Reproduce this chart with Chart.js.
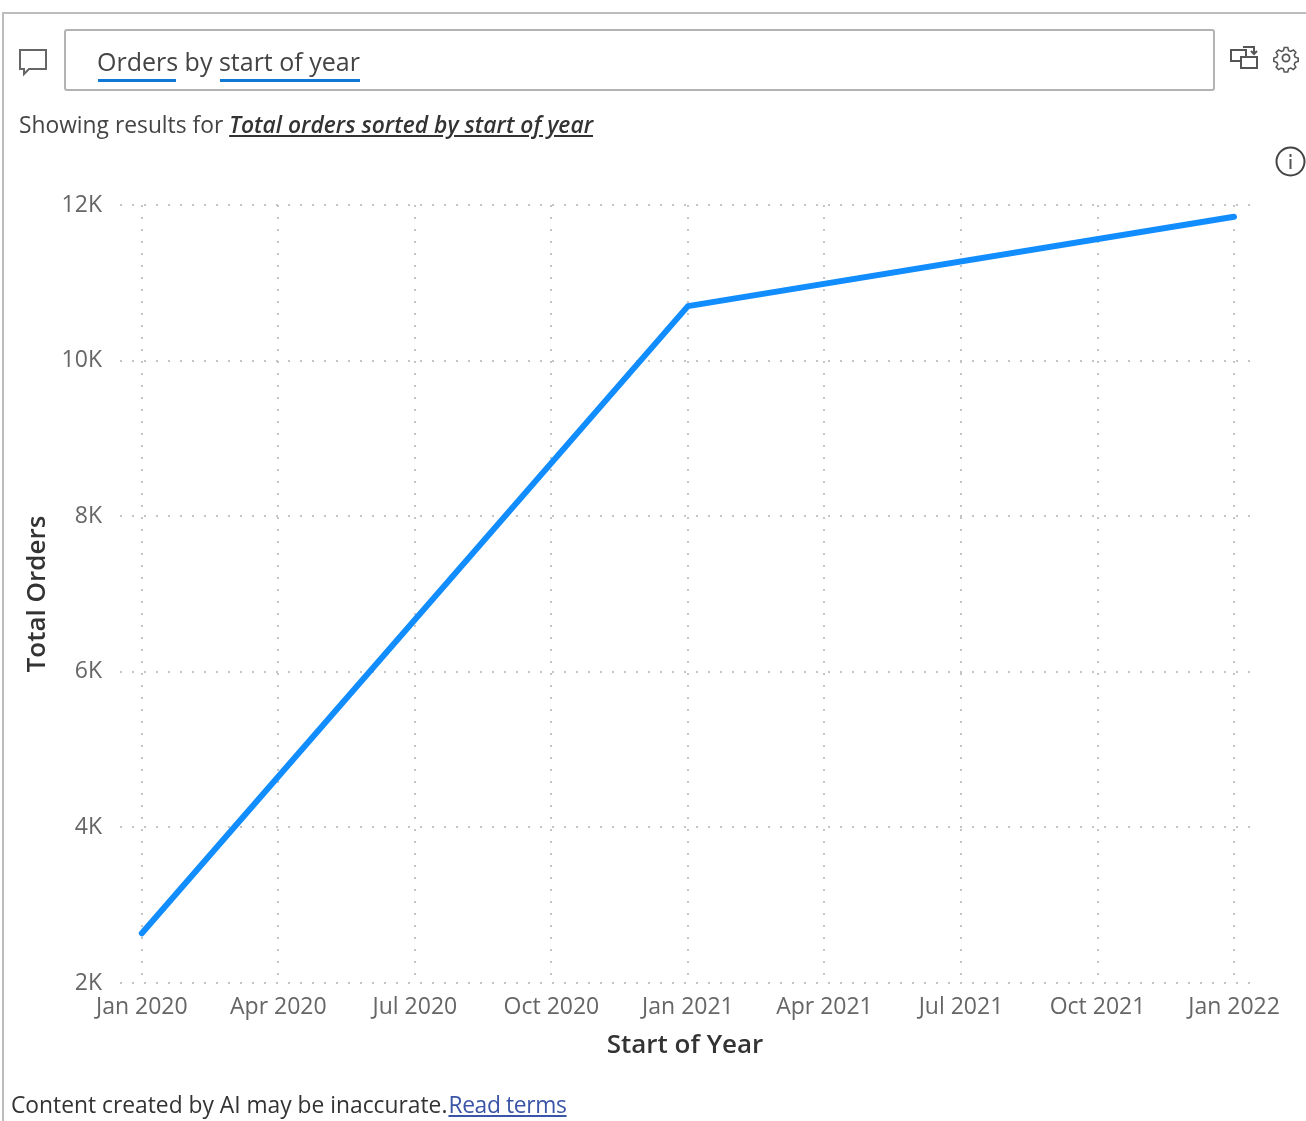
<!DOCTYPE html>
<html><head><meta charset="utf-8">
<script src="https://cdn.jsdelivr.net/npm/chart.js@4"></script>
<style>
html,body{margin:0;padding:0;background:#fff;width:1306px;height:1121px;overflow:hidden}
#wrap{position:relative;width:1306px;height:1121px;font-family:"Open Sans",sans-serif;filter:blur(0.45px)}
#frame{position:absolute;left:2px;top:12px;width:1310px;height:1120px;border:2px solid #bdbdbd;box-sizing:border-box}
#box{position:absolute;left:64px;top:29px;width:1151px;height:62px;border:2px solid #b3b3b3;border-radius:3px;box-sizing:border-box}
.t{position:absolute;white-space:nowrap;line-height:1}
canvas{position:absolute;left:0;top:0}
svg{position:absolute;overflow:visible}
</style></head><body>
<div id="wrap">
<canvas id="c" width="1306" height="1121" style="width:1306px;height:1121px"></canvas>
<div id="frame"></div>
<div id="box"></div>
<svg style="left:18px;top:47px" width="30" height="28" fill="none" stroke="#666" stroke-width="2"><path d="M2 3h26v19H11l-5 5v-5H2z"/></svg>
<div class="t" id="q" style="left:97px;top:49px;font-size:25px;color:#444">Orders by start of year</div>
<div style="position:absolute;left:98px;top:79px;width:78px;height:3px;background:#0f78d4"></div>
<div style="position:absolute;left:220px;top:79px;width:140px;height:3px;background:#0f78d4"></div>
<div class="t" id="s" style="left:19px;top:114px;font-size:22.8px;color:#444">Showing results for <span style="font-style:italic;font-weight:600;text-decoration:underline;color:#333;letter-spacing:0.02px">Total orders sorted by start of year</span></div>
<svg style="left:1230px;top:44px" width="30" height="28" fill="none" stroke="#555" stroke-width="2"><rect x="1" y="6" width="15" height="11"/><rect x="11" y="13" width="16" height="11" fill="#fff"/><path d="M13 3h11v7M21 7l3 3 3-3"/></svg>
<svg style="left:1274px;top:46px" width="25" height="25" fill="none" stroke="#555" stroke-width="1.8"><circle cx="12" cy="12" r="3.600"/><path d="M11 1h4l1 3.500 2.500 1 3-1.800 2.800 2.800-1.800 3 1 2.500 3.500 1v4l-3.500 1-1 2.500 1.800 3-2.800 2.800-3-1.800-2.500 1-1 3.500h-4l-1-3.500-2.500-1-3 1.800-2.800-2.800 1.800-3-1-2.500-3.500-1v-4l3.500-1 1-2.500-1.800-3 2.800-2.800 3 1.800 2.500-1z" transform="scale(0.87) translate(0.8 0.8)"/></svg>
<svg style="left:1275px;top:146px" width="31" height="31" fill="none"><circle cx="15.5" cy="15.500" r="14" stroke="#444" stroke-width="2"/><path d="M15.5 13v10M15.5 8v3" stroke="#555" stroke-width="2"/></svg>
<div class="t" id="f" style="left:11px;top:1094px;font-size:22.8px;color:#333">Content created by AI may be inaccurate.<span style="color:#3a55a8;text-decoration:underline;margin-left:1px;letter-spacing:-0.35px">Read terms</span></div>
</div>
<script>
const categories=["Jan 2020","Apr 2020","Jul 2020","Oct 2020","Jan 2021","Apr 2021","Jul 2021","Oct 2021","Jan 2022"];
const pointIndex=[0,4,8];
const totalOrders=[2640,10700,11850];
const yTicks=[2000,4000,6000,8000,10000,12000];
const yLabels=["2K","4K","6K","8K","10K","12K"];
const font='"Open Sans",sans-serif';
const grid={color:"#c4c4c4",lineWidth:2,drawTicks:false};
const border={display:false};
new Chart(document.getElementById("c"),{
 type:"line",
 data:{datasets:[{data:pointIndex.map((x,i)=>({x,y:totalOrders[i]})),borderColor:"#118DFF",borderWidth:6,borderCapStyle:"round",borderJoinStyle:"round",pointRadius:0,tension:0}]},
 options:{responsive:false,animation:false,devicePixelRatio:1,
  layout:{padding:{left:22,right:56,top:205,bottom:60}},
  plugins:{legend:{display:false},tooltip:{enabled:false}},
  scales:{
   x:{type:"linear",min:-0.16,max:8.117,
    afterBuildTicks(s){s.ticks=categories.map((_,i)=>({value:i}));},
    afterFit(s){s.height=78;},
    grid:{...grid,tickLength:0},border:{...border,dash:[2,10]},
    ticks:{autoSkip:false,maxRotation:0,minRotation:0,padding:11,color:"#666",font:{family:font,size:23},callback:v=>categories[v]},
    title:{display:true,text:"Start of Year",color:"#333",font:{family:font,size:26,weight:"600"},padding:{top:4,bottom:0}}},
   y:{min:2000,max:12000,
    afterBuildTicks(s){s.ticks=yTicks.map(v=>({value:v}));},
    afterFit(s){s.width=98;},
    grid:{...grid,tickLength:0},border:{...border,dash:[2,10]},
    ticks:{padding:18,color:"#666",font:{family:font,size:23},callback:v=>yLabels[yTicks.indexOf(v)]},
    title:{display:true,text:"Total Orders",color:"#333",font:{family:font,size:26,weight:"600"},padding:{top:0,bottom:0}}}
  }
 }
});
</script>
</body></html>
